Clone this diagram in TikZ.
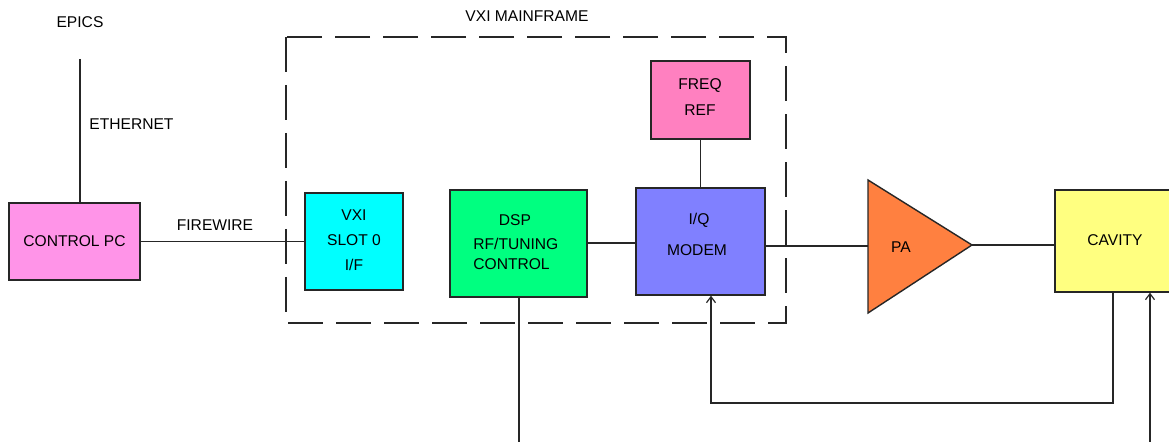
\documentclass[tikz,border=0pt]{standalone}
\usepackage{fontspec}
\setmainfont{Liberation Sans}
\usetikzlibrary{arrows.meta}
\definecolor{cpcfill}{HTML}{FF94E8}
\definecolor{vxifill}{HTML}{00FFFF}
\definecolor{dspfill}{HTML}{00FF80}
\definecolor{iqfill}{HTML}{8080FF}
\definecolor{freqfill}{HTML}{FF80C0}
\definecolor{pafill}{HTML}{FF8040}
\definecolor{cavfill}{HTML}{FFFF80}
\tikzset{
  blk/.style={draw=black!85, line width=0.7pt, inner sep=0pt},
  lbl/.style={font=\fontsize{7.8}{12.5}\selectfont, inner sep=0pt, text=black},
  wire/.style={draw=black!85, line width=0.75pt},
  tip/.style={-{Straight Barb[length=3pt,width=4.5pt,line width=0.6pt]}},
  frame/.style={draw=black!85, line width=0.7pt, dash pattern=on 17.5pt off 6.5pt}
}
\begin{document}
\begin{tikzpicture}[x=0.5pt,y=-0.5pt]
\useasboundingbox (0,0) rectangle (1169,442);
% mainframe
\draw[frame] (286,37) rectangle (786,323);
\node[lbl] (mftxt) at (527,16) {VXI MAINFRAME};
% blocks
\node[blk, fill=cpcfill, minimum width=65.5pt, minimum height=38.5pt] (cpc) at (74.5,241.5) {};
\node[lbl] (cpctxt) at (74.5,241) {CONTROL PC};
\node[blk, fill=vxifill, minimum width=49pt, minimum height=48.5pt] (vxi) at (354,241.5) {};
\node[lbl, align=center] (vxitxt) at (354,240) {VXI\\SLOT 0\\I/F};
\node[blk, fill=dspfill, minimum width=68.5pt, minimum height=53.5pt] (dsp) at (518.5,243.5) {};
\node[lbl] (dsp1) at (515,220) {DSP};
\node[lbl, anchor=west] (dsp2) at (473,244) {RF/TUNING};
\node[lbl, anchor=west] (dsp3) at (473,264) {CONTROL};
\node[blk, fill=iqfill, minimum width=64.5pt, minimum height=53.5pt] (iq) at (700.5,241.5) {};
\node[lbl] (iq1) at (699,220) {I/Q};
\node[lbl] (iq2) at (697,250) {MODEM};
\node[blk, fill=freqfill, minimum width=49.5pt, minimum height=39pt] (freq) at (700.5,100) {};
\node[lbl] (fq1) at (700,86) {FREQ};
\node[lbl] (fq2) at (700,110) {REF};
\node[blk, fill=cavfill, minimum width=60pt, minimum height=51pt] (cav) at (1115,241) {};
\node[lbl] (cavtxt) at (1115,240) {CAVITY};
% PA triangle
\coordinate (pat) at (868,180);
\coordinate (pab) at (868,313);
\coordinate (paout) at (972,245);
\coordinate (pain) at (868,246);
\draw[blk, fill=pafill] (pat) -- (paout) -- (pab) -- cycle;
\node[lbl] (patxt) at (901,247) {PA};
% labels
\node[lbl] (epics) at (80,22) {EPICS};
\node[lbl, anchor=west] (eth) at (89,124) {ETHERNET};
\node[lbl] (fw) at (215,225) {FIREWIRE};
% connectors
\coordinate (ethtop) at (80,59);
\draw[wire] (ethtop) -- (ethtop |- cpc.north);
\draw[wire] (cpc.east) -- (vxi.west);
\draw[wire] (dsp.east |- 0,243) -- (iq.west |- 0,243);
\draw[wire] (freq.south) -- (iq.north);
\draw[wire] (iq.east |- pain) -- (pain);
\draw[wire] (paout) -- (cav.west |- paout);
\coordinate (fb1) at (1113,403);
\coordinate (fb2) at (711,403);
\draw[wire, tip] (fb1 |- cav.south) -- (fb1) -- (fb2) -- (fb2 |- iq.south);
\coordinate (dspend) at (519,442);
\draw[wire] (dspend |- dsp.south) -- (dspend);
\coordinate (cavin) at (1150,442);
\draw[wire, tip] (cavin) -- (cavin |- cav.south);
\end{tikzpicture}
\end{document}
